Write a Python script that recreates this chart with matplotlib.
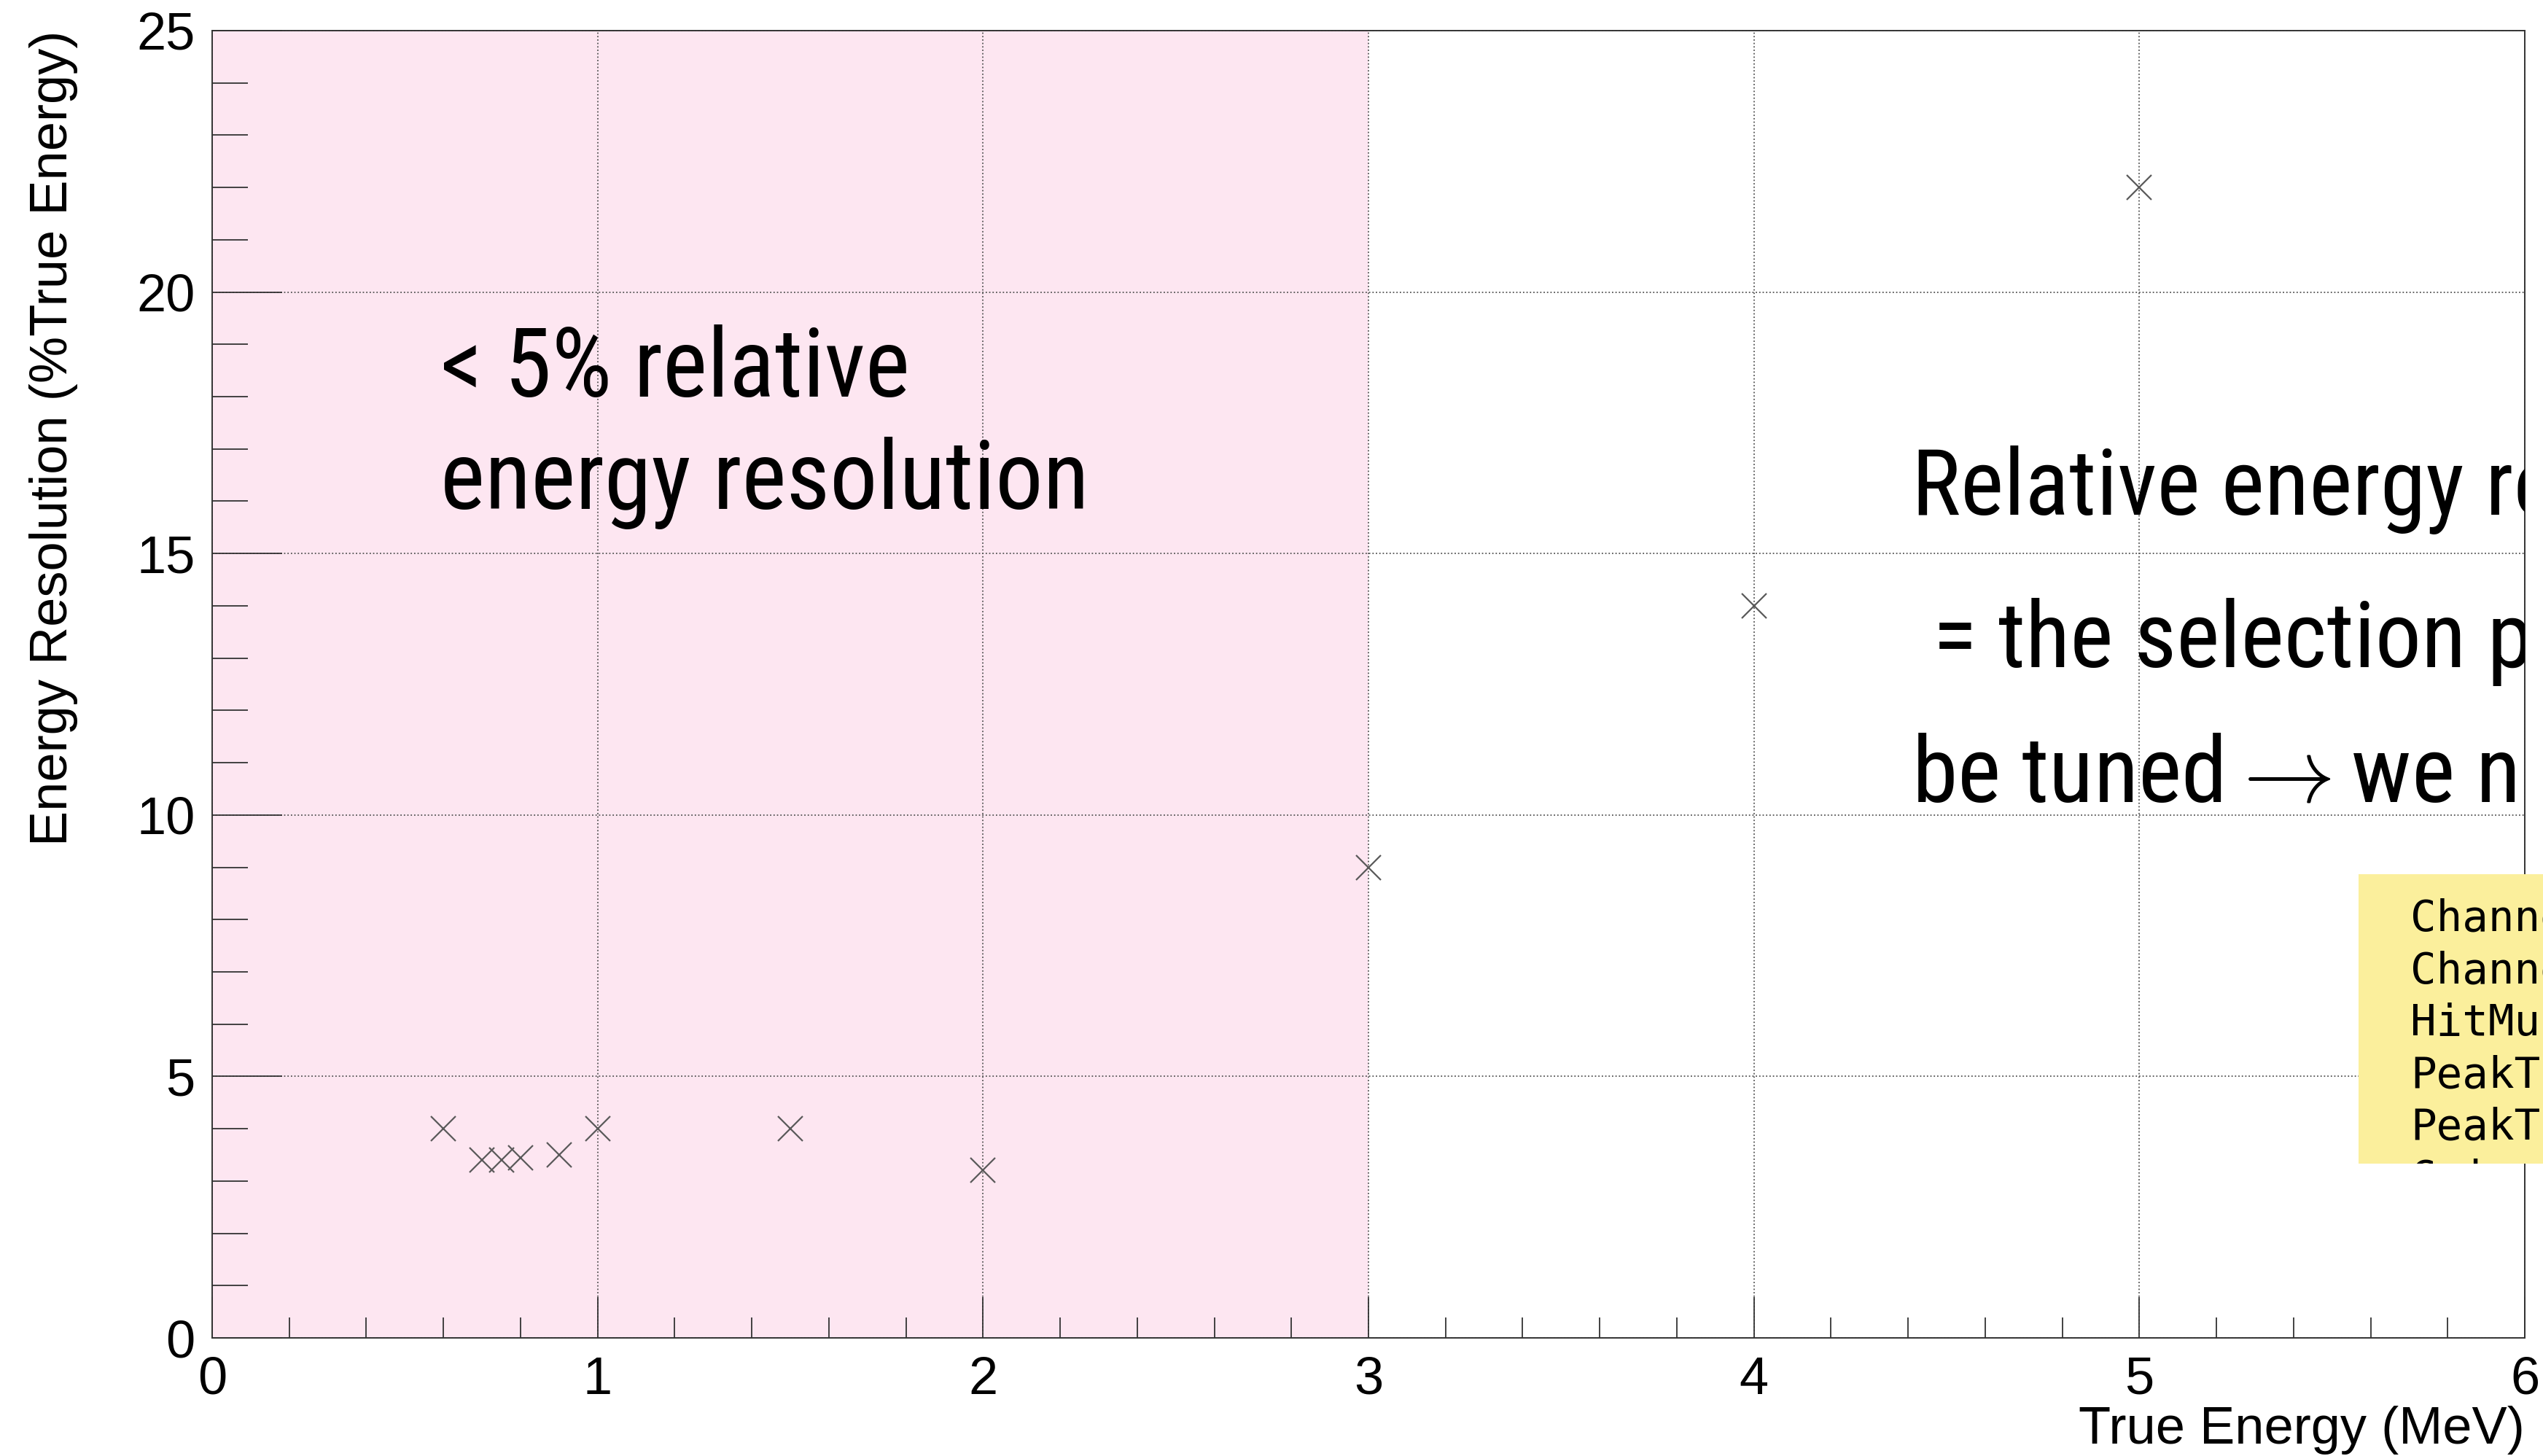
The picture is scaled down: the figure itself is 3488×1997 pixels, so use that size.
import matplotlib
matplotlib.use("Agg")
import matplotlib.pyplot as plt
from matplotlib.patches import Rectangle
from matplotlib.ticker import MultipleLocator

plt.rcParams["mathtext.fontset"] = "cm"

# Resolution measurements
energy = [0.6, 0.7, 0.75, 0.8, 0.9, 1.0, 1.5, 2.0, 3.0, 4.0, 5.0]
resolution = [4.0, 3.4, 3.4, 3.45, 3.5, 4.0, 4.0, 3.2, 9.0, 14.0, 22.0]

x_ticks = [0, 1, 2, 3, 4, 5, 6]
y_ticks = [0, 5, 10, 15, 20, 25]
good_region = (0, 3)

x_title = "True Energy (MeV)"
y_title = "Energy Resolution (%True Energy)"

left_note = ["< 5% relative", "energy resolution"]
right_note = ["Relative energy resolution", " = the selection parameters",
              r"be tuned$\rightarrow$we need"]
cut_lines = ["ChannelMin", "ChannelMax", "HitMultiplicity", "PeakTimeMin", "PeakTimeMax", "Coincidence"]

W, H = 3488, 1997
fig = plt.figure(figsize=(W / 100, H / 100), dpi=100)
ax = fig.add_axes([291 / W, 1 - 1835 / H, (3463 - 291) / W, (1835 - 42) / H])

sans = ["Liberation Sans", "DejaVu Sans"]
narrow = ["Roboto Condensed", "Barlow Semi Condensed", "DejaVu Sans"]

ax.set_xlim(x_ticks[0], x_ticks[-1])
ax.set_ylim(y_ticks[0], y_ticks[-1])
ax.axvspan(*good_region, color="#fde6f1", zorder=0, lw=0)

ax.set_axisbelow(True)
ax.grid(True, which="major", color="#555555", lw=1.3, linestyle=(0, (1, 1.6)))

ax.plot(energy, resolution, ls="none", marker="x", ms=25, mew=1.6,
        color="#5a5a5a", zorder=3, clip_on=False)

ax.xaxis.set_major_locator(MultipleLocator(1))
ax.xaxis.set_minor_locator(MultipleLocator(0.2))
ax.yaxis.set_major_locator(MultipleLocator(5))
ax.yaxis.set_minor_locator(MultipleLocator(1))
ax.set_xticks(x_ticks)
ax.set_yticks(y_ticks)

ax.tick_params(axis="both", which="both", direction="in", top=False, right=False,
               width=1.3, color="#333333")
ax.tick_params(axis="x", which="major", length=40, pad=18, labelsize=52)
ax.tick_params(axis="x", which="minor", length=20)
ax.tick_params(axis="y", which="major", length=69, pad=17, labelsize=52)
ax.tick_params(axis="y", which="minor", length=35)
for lab in ax.get_xticklabels() + ax.get_yticklabels():
    lab.set_fontfamily(sans)

for sp in ax.spines.values():
    sp.set_linewidth(1.4)
    sp.set_color("#333333")

ax.set_xlabel(x_title, fontsize=52, family=sans, loc="right")
ax.xaxis.label.set_va("baseline")
ax.xaxis.set_label_coords(1.0, -0.0809)
ax.set_ylabel(y_title, fontsize=52, family=sans, loc="top")
ax.yaxis.label.set_va("baseline")
ax.yaxis.set_label_coords(-0.0627, 1.0)

# Annotations inside the frame
for line, yb in zip(left_note, [18.0, 15.85]):
    ax.text(0.593, yb, line, fontsize=94, family=narrow, va="baseline", ha="left",
            color="black", zorder=4)
for line, yb in zip(right_note, [15.74, 12.83, 10.26]):
    ax.text(4.41, yb, line, fontsize=91, family=narrow, va="baseline", ha="left",
            color="black", zorder=4, clip_on=True)

# Yellow selection-cut panel at the right edge
box = Rectangle((3235 / W, 1 - 1596 / H), 1 - 3235 / W, (1596 - 1199) / H,
                transform=fig.transFigure, facecolor="#fbef9c", edgecolor="none",
                zorder=10)
fig.add_artist(box)
for i, line in enumerate(cut_lines):
    t = fig.text(3306 / W, 1 - (1277 + i * 71.4) / H, line, fontsize=42.7,
                 family=["DejaVu Sans Mono"], va="baseline", ha="left",
                 color="black", zorder=11)
    t.set_clip_path(box)

fig.savefig("out.png", dpi=100, facecolor="white")
